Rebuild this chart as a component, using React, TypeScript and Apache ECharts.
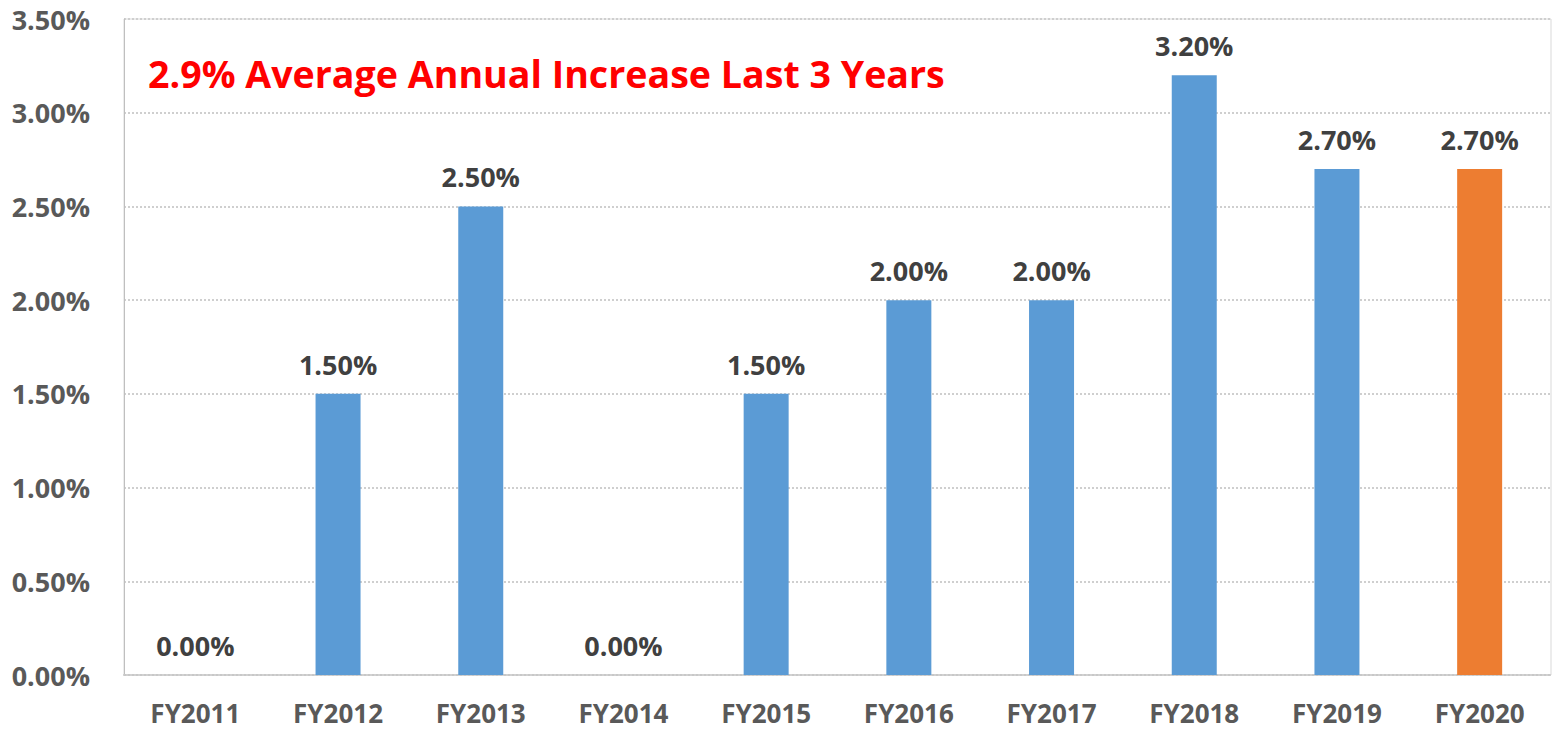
import React, { useEffect, useRef } from "react";
import * as echarts from "echarts";

const categories = ["FY2011", "FY2012", "FY2013", "FY2014", "FY2015", "FY2016", "FY2017", "FY2018", "FY2019", "FY2020"];
const values = [0, 1.5, 2.5, 0, 1.5, 2.0, 2.0, 3.2, 2.7, 2.7];
const highlightIndex = 9;
const yTicks = { min: 0, max: 3.5, interval: 0.5 };
const annotation = "2.9% Average Annual Increase Last 3 Years";

const FONT = "'Open Sans', sans-serif";

export default function App() {
  const ref = useRef<HTMLDivElement>(null);
  useEffect(() => {
    document.body.style.margin = "0";
    const chart = echarts.init(ref.current!, null, { renderer: "svg" });
    chart.setOption({
      animation: false,
      backgroundColor: "#ffffff",
      grid: { left: 124, right: 1, top: 19, bottom: 58, containLabel: false, show: true, borderColor: "#d9d9d9", borderWidth: 1 },
      xAxis: {
        type: "category",
        data: categories,
        axisLine: { show: true, lineStyle: { color: "#c8c8c8", type: "dotted", width: 2 } },
        axisTick: { show: false },
        axisLabel: { color: "#595959", fontFamily: FONT, fontWeight: "bold", fontSize: 26, lineHeight: 22, margin: 27 },
      },
      yAxis: {
        type: "value",
        min: yTicks.min,
        max: yTicks.max,
        interval: yTicks.interval,
        axisLine: { show: true, lineStyle: { color: "#bfbfbf", width: 1 } },
        axisTick: { show: false },
        splitLine: { show: true, lineStyle: { color: "#cfcfcf", type: "dotted", width: 2 } },
        axisLabel: {
          color: "#595959",
          fontFamily: FONT,
          fontWeight: "bold",
          fontSize: 27,
          margin: 34,
          formatter: (v: number) => v.toFixed(2) + "%",
        },
      },
      series: [
        {
          type: "bar",
          barWidth: 45,
          data: values.map((v, i) => ({
            value: v,
            itemStyle: { color: i === highlightIndex ? "#ed7d31" : "#5b9bd5" },
          })),
          label: {
            show: true,
            position: "top",
            distance: 16,
            color: "#404040",
            fontFamily: FONT,
            fontWeight: "bold",
            fontSize: 27,
            formatter: (p: any) => Number(p.value).toFixed(2) + "%",
          },
        },
      ],
      graphic: [
        {
          type: "text",
          left: 148,
          top: 54,
          style: {
            text: annotation,
            fill: "#ff0000",
            font: `bold 37.6px ${FONT}`,
          },
        },
      ],
    });
    return () => chart.dispose();
  }, []);
  return <div ref={ref} style={{ width: 1552, height: 733 }} />;
}
